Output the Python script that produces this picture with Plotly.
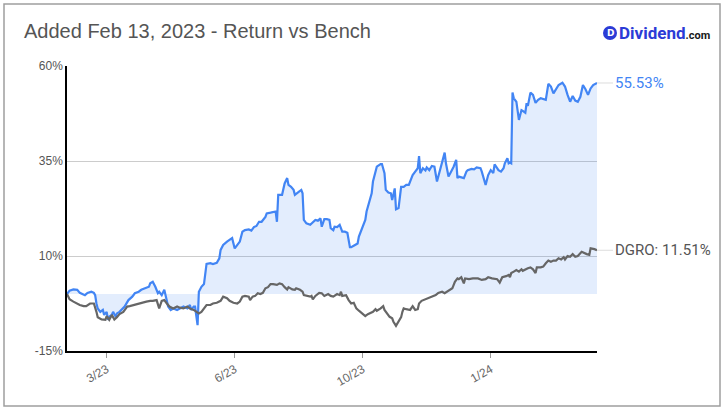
import pandas as pd
import plotly.graph_objects as go

# ---- data ----
start_date = "2023-02-13"

blue_days = [0, 2, 5, 8, 10, 12, 14, 16, 19, 21, 22, 23, 24, 26, 28, 29, 31, 32, 33, 35, 36, 38, 39, 41, 44, 45, 48, 51, 53, 56,
             58, 61, 64, 65, 67, 69, 71, 72, 74, 76, 77, 79, 81, 83, 86, 88, 91, 94, 96, 97, 99, 100, 102, 103, 105, 107, 109,
             112, 114, 117, 119, 120, 122, 125, 127, 129, 131, 133, 135, 137, 139, 142, 144, 146, 148, 150, 152, 155, 156, 159,
             161, 163, 164, 165, 168, 169, 170, 172, 173, 175, 177, 178, 180, 181, 183, 184, 185, 187, 190, 192, 194, 196, 198,
             199, 201, 203, 205, 206, 208, 209, 211, 213, 215, 217, 219, 221, 222, 225, 227, 228, 230, 233, 234, 236, 238, 239,
             241, 242, 245, 246, 248, 249, 251, 253, 254, 256, 257, 259, 261, 263, 265, 267, 268, 270, 272, 274, 275, 276, 278,
             280, 281, 283, 285, 287, 289, 291, 293, 295, 296, 298, 300, 302, 304, 305, 306, 308, 310, 312, 313, 316, 318, 320,
             323, 324, 327, 329, 331, 333, 334, 336, 337, 339, 341, 342, 344, 345, 346, 347, 348, 349, 351, 353, 355, 356, 358,
             359, 360, 362, 364, 366, 368, 370, 372, 374, 376, 378, 380, 382, 384, 387, 389, 391, 393, 395, 397, 399, 401, 403,
             405, 407, 409, 411, 414]
blue_ret = [0.0, 0.9, 1.2, 1.1, 0.3, 0.0, -0.3, 0.3, 0.6, 0.3, -0.3, -2.5, -3.8, -4.7, -4.2, -5.5, -4.7, -6.8, -6.0, -5.5,
            -4.7, -6.0, -5.1, -4.7, -3.8, -3.3, -1.6, -0.7, 0.2, 0.6, 1.1, 1.5, 1.9, 2.8, 3.2, 1.9, 0.2, 0.6, -0.3, 1.1,
            -0.7, -3.3, -4.2, -3.8, -4.2, -3.8, -3.3, -3.8, -2.9, -4.2, -3.3, -3.3, -8.2, 0.6, 1.9, 2.6, 7.9, 8.1, 7.9, 8.2,
            9.4, 11.6, 12.9, 13.8, 14.2, 14.7, 12.0, 12.9, 13.8, 16.4, 16.8, 17.0, 16.7, 17.6, 17.9, 19.0, 19.0, 20.3, 21.2,
            21.4, 21.5, 21.7, 19.0, 26.1, 26.1, 27.8, 29.1, 30.5, 28.7, 28.2, 27.4, 26.1, 26.5, 26.9, 27.4, 26.5, 19.5, 18.6,
            18.2, 19.0, 19.5, 19.3, 19.9, 17.7, 19.7, 19.7, 19.5, 17.3, 16.8, 17.7, 17.6, 18.2, 16.4, 16.4, 16.1, 12.3, 12.3,
            12.9, 13.3, 15.1, 16.8, 19.5, 21.7, 24.3, 26.5, 29.6, 32.2, 33.5, 34.2, 34.2, 31.8, 27.4, 26.7, 26.5, 24.7, 27.8,
            22.3, 22.6, 28.2, 28.2, 28.7, 28.7, 29.6, 31.3, 32.2, 33.1, 36.3, 31.8, 33.1, 32.5, 33.3, 32.6, 33.7, 33.5, 29.6,
            32.2, 34.4, 37.2, 34.4, 30.9, 32.2, 33.5, 35.3, 30.5, 30.9, 30.7, 30.5, 32.2, 32.6, 32.9, 32.8, 33.3, 33.1, 32.2,
            28.7, 31.3, 32.6, 31.8, 34.1, 33.1, 32.6, 32.2, 33.1, 34.4, 35.7, 34.4, 34.6, 34.4, 53.0, 51.5, 50.6, 45.8, 48.4,
            48.2, 47.7, 50.2, 49.5, 53.0, 52.4, 50.3, 51.1, 51.5, 51.2, 51.1, 55.3, 54.6, 52.8, 54.1, 55.0, 55.6, 54.6, 52.4,
            50.6, 52.1, 50.9, 50.6, 51.9, 55.0, 53.9, 52.4, 54.1, 55.0, 55.53]

dgro_days = [0, 2, 5, 8, 10, 13, 15, 18, 21, 23, 24, 27, 30, 31, 33, 35, 37, 39, 41, 44, 47, 49, 52, 54, 57, 60, 62, 65, 67,
             70, 72, 74, 76, 78, 80, 83, 86, 88, 91, 94, 96, 99, 101, 103, 105, 109, 112, 114, 117, 120, 122, 125, 127, 130,
             133, 135, 137, 139, 142, 143, 145, 147, 149, 151, 153, 155, 157, 159, 161, 164, 166, 168, 170, 172, 173, 176,
             178, 179, 182, 184, 185, 187, 190, 191, 192, 194, 197, 199, 201, 204, 206, 208, 211, 213, 214, 215, 218, 220,
             222, 224, 226, 228, 230, 233, 235, 237, 239, 241, 242, 245, 247, 248, 250, 252, 254, 255, 257, 259, 261, 262,
             263, 265, 268, 270, 272, 274, 275, 277, 280, 282, 285, 288, 290, 293, 295, 298, 301, 303, 305, 306, 308, 310,
             311, 314, 317, 321, 324, 327, 329, 332, 336, 338, 340, 343, 345, 346, 347, 349, 351, 353, 355, 356, 358, 360,
             362, 364, 366, 367, 370, 372, 374, 376, 378, 380, 382, 384, 386, 388, 389, 391, 393, 395, 397, 399, 402, 404,
             406, 408, 409, 412, 414]
dgro_ret = [0.0, -1.4, -2.0, -2.6, -2.9, -3.2, -3.2, -2.5, -2.5, -4.7, -6.1, -6.7, -6.8, -5.8, -6.8, -5.5, -6.7, -6.1, -5.3,
            -4.7, -3.3, -3.2, -2.9, -2.6, -2.5, -2.0, -2.0, -1.8, -1.8, -1.6, -3.8, -1.8, -1.6, -2.5, -3.3, -3.8, -3.3, -3.6,
            -3.8, -3.3, -3.8, -4.2, -4.7, -5.1, -4.7, -2.9, -2.9, -2.5, -2.3, -1.8, -0.7, -1.1, -1.8, -2.3, -2.5, -2.0, -0.7,
            -0.5, -0.7, -1.6, -0.7, -0.5, 0.2, 0.0, 0.3, 1.5, 1.8, 2.6, 2.6, 2.4, 2.8, 2.6, 1.8, 1.2, 1.8, 1.2, 1.1, 1.5,
            1.1, 0.6, -0.3, -0.5, -0.7, -0.5, -1.4, -0.5, 0.3, 0.2, -0.5, 0.0, -0.5, -0.7, 0.0, -0.3, 0.6, -0.5, -0.3, -1.6,
            -2.5, -2.3, -3.8, -4.4, -4.9, -5.8, -5.3, -5.1, -4.7, -4.0, -4.4, -3.8, -3.2, -4.2, -5.1, -6.0, -6.4, -7.3, -8.4,
            -7.3, -6.1, -4.7, -3.8, -4.0, -4.2, -3.2, -4.2, -4.0, -2.5, -1.8, -1.4, -1.1, -0.7, -0.3, 0.3, 0.6, 0.2, 0.9, 1.5,
            3.2, 4.1, 3.9, 4.4, 2.8, 4.1, 3.9, 4.1, 4.1, 3.7, 3.9, 4.4, 4.1, 3.9, 3.0, 4.4, 4.7, 5.0, 4.4, 5.5, 5.9, 6.3, 5.9,
            6.5, 6.1, 6.5, 6.8, 7.0, 6.5, 5.5, 7.0, 7.0, 7.2, 8.1, 8.8, 8.5, 8.8, 8.8, 9.4, 9.1, 9.7, 9.1, 10.0, 9.8, 10.5,
            9.8, 10.0, 11.1, 10.7, 10.5, 10.3, 12.0, 11.8, 11.51]

y_ticks = [-15, 10, 35, 60]
y_tick_text = ["-15%", "10%", "35%", "60%"]
x_tick_days = [31, 131, 231, 331]
x_tick_text = ["3/23", "6/23", "10/23", "1/24"]
end_day = 414

title_text = "Added Feb 13, 2023 - Return vs Bench"
blue_label = "55.53%"
dgro_label = "DGRO: 11.51%"

# ---- build ----
t0 = pd.Timestamp(start_date)
blue_x = t0 + pd.to_timedelta(blue_days, unit="D")
dgro_x = t0 + pd.to_timedelta(dgro_days, unit="D")
tick_x = t0 + pd.to_timedelta(x_tick_days, unit="D")
x_end = t0 + pd.Timedelta(days=end_day)

BLUE = "#4285f4"
GREY = "#666666"
FONT = "Liberation Sans, Arial, sans-serif"

fig = go.Figure()
fig.add_trace(go.Scatter(
    x=blue_x, y=blue_ret, mode="lines", fill="tozeroy",
    fillcolor="rgba(66,133,244,0.15)",
    line=dict(color=BLUE, width=2.2), hoverinfo="skip", showlegend=False))
fig.add_trace(go.Scatter(
    x=dgro_x, y=dgro_ret, mode="lines",
    line=dict(color=GREY, width=2.2), hoverinfo="skip", showlegend=False))

# plot area in pixels: x 67..597, y 66..351
W, H = 726, 412
L, R, T, B = 67, 129, 66, 61
pw, ph = W - L - R, H - T - B


def px_x(p):
    return (p - L) / pw


def px_y(p):
    return (H - B - p) / ph


fig.update_layout(
    width=W, height=H, autosize=False,
    margin=dict(l=L, r=R, t=T, b=B, pad=0),
    paper_bgcolor="white", plot_bgcolor="white",
    font=dict(family=FONT, color="#444"),
    title=dict(text=title_text, xref="container", yref="container",
               x=24 / W, y=1 - 31 / H, xanchor="left", yanchor="middle",
               font=dict(size=20, color="#555555", family=FONT)),
    xaxis=dict(type="date", range=[t0, x_end], tickvals=tick_x, ticktext=x_tick_text,
               tickangle=-30, ticks="outside", ticklen=5, tickcolor="#999999",
               showgrid=False, zeroline=False, showline=True, linecolor="#000000",
               linewidth=1.5, tickfont=dict(size=12, color="#666666")),
    yaxis=dict(range=[-15, 60], tickmode="array", tickvals=y_ticks, ticktext=y_tick_text,
               showgrid=True, gridcolor="#cccccc", gridwidth=1, zeroline=False,
               showline=True, linecolor="#000000", linewidth=1.5, ticks="",
               tickfont=dict(size=12, color="#555555")),
    showlegend=False,
)

# outer frame
fig.add_shape(type="rect", xref="paper", yref="paper",
              x0=px_x(4), x1=px_x(720), y0=px_y(406), y1=px_y(4),
              line=dict(color="#9e9e9e", width=1.5), fillcolor="rgba(0,0,0,0)", layer="below")

# end labels
fig.add_annotation(x=blue_x[-1], y=blue_ret[-1], text=blue_label, showarrow=True,
                   arrowhead=0, arrowwidth=1, arrowcolor="#dddddd", ax=16, ay=0,
                   xanchor="left", yanchor="middle",
                   font=dict(size=15, color=BLUE, family="Roboto, sans-serif"))
fig.add_annotation(x=dgro_x[-1], y=dgro_ret[-1], text=dgro_label, showarrow=True,
                   arrowhead=0, arrowwidth=1, arrowcolor="#dddddd", ax=16, ay=0,
                   xanchor="left", yanchor="middle",
                   font=dict(size=15, color="#555555", family="Roboto, sans-serif"))

# logo
LOGO = "#2b3bd6"
fig.add_shape(type="circle", xref="paper", yref="paper",
              x0=px_x(603), x1=px_x(617), y0=px_y(40), y1=px_y(26),
              fillcolor=LOGO, line=dict(width=0))
fig.add_annotation(xref="paper", yref="paper", x=px_x(610), y=px_y(33), text="<b>D</b>",
                   showarrow=False, xanchor="center", yanchor="middle",
                   font=dict(size=9, color="white", family="DejaVu Sans, sans-serif"))
fig.add_annotation(xref="paper", yref="paper", x=px_x(617), y=px_y(33),
                   text="<b>Dividend</b><span style='font-size:11px;color:#1a1a1a'><b>.com</b></span>",
                   showarrow=False, xanchor="left", yanchor="middle",
                   font=dict(size=17, color=LOGO, family="Roboto, sans-serif"))

fig.write_html("out.html", config={"displayModeBar": False})
